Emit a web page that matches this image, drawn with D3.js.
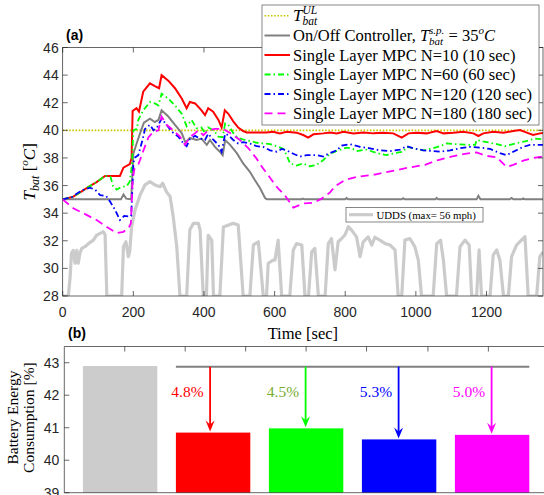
<!DOCTYPE html>
<html>
<head>
<meta charset="utf-8">
<script src="https://cdn.jsdelivr.net/npm/d3@7"></script>
<style>
  body { margin: 0; background: #fff; }
</style>
</head>
<body>
<script>
// ---- data ----
const timeTicks = [0, 200, 400, 600, 800, 1000, 1200];
const tempTicks = [28, 30, 32, 34, 36, 38, 40, 42, 44, 46];
const tUL = 40;

// [time (s), T_bat (degC)]
const onOff = [[0,35],[165,35],[172,35.35],[180,35.05],[194,35],[200,38.3],[210,39.1],[222,40.0],[230,40.55],[247,40.85],[261,40.6],[271,40.75],[280,41.45],[299,41.0],[318,40.4],[337,39.8],[348,39.1],[360,39.45],[379,39.3],[393,39.4],[408,38.95],[417,39.3],[431,38.8],[445,38.45],[453,38.2],[460,39.3],[474,38.95],[493,38.35],[511,37.6],[530,37.0],[544,36.4],[559,35.8],[573,35.1],[578,35],[676,35],[680,35.05],[684,35],[800,35],[804,35.1],[808,35],[960,35],[964,35.08],[968,35],[1055,35],[1059,35.1],[1063,35],[1172,35],[1177,35.25],[1183,35],[1266,35],[1271,35.1],[1276,35],[1300,35],[1304,35.07],[1308,35],[1360,35]];

const mpc10 = [[0,35],[30,35.2],[55,35.6],[73,35.9],[96,36.25],[120,36.7],[162,36.7],[172,37.3],[190,37.55],[195,38.0],[198,41.4],[209,41.6],[216,41.35],[228,42.8],[247,43.4],[261,43.2],[273,43.05],[280,44.0],[299,43.6],[318,43.05],[337,42.3],[351,41.6],[360,42.05],[375,41.95],[393,41.45],[403,41.1],[412,41.6],[426,41.35],[441,40.75],[450,40.2],[459,41.45],[469,41.2],[483,40.65],[497,40.2],[511,39.95],[521,39.85],[549,39.85],[577,39.85],[596,39.9],[615,39.78],[634,39.9],[662,39.83],[681,39.66],[695,39.47],[710,39.71],[738,39.78],[757,39.85],[776,39.78],[795,39.9],[823,39.78],[851,39.85],[880,39.78],[908,39.83],[936,39.78],[960,39.47],[979,39.78],[1002,39.83],[1030,39.78],[1059,39.95],[1078,39.78],[1106,39.83],[1134,39.9],[1163,39.78],[1177,39.59],[1191,39.78],[1219,39.9],[1248,39.83],[1276,39.95],[1295,40.02],[1314,39.83],[1332,39.66],[1351,39.78],[1360,39.8]];

const mpc60 = [[0,35],[30,35.2],[55,35.6],[73,35.9],[96,36.25],[120,36.7],[135,36.65],[143,35.95],[153,35.7],[165,35.9],[181,35.95],[190,36.3],[196,37.5],[200,40.0],[210,40.1],[214,40.75],[228,41.45],[247,42.05],[261,41.95],[271,41.8],[280,42.65],[299,42.3],[318,41.8],[337,41.2],[351,40.3],[365,40.75],[379,40.15],[393,40.2],[403,39.8],[412,40.2],[427,40.0],[441,39.55],[453,39.5],[460,40.5],[469,40.4],[483,39.8],[497,39.45],[516,39.3],[535,39.2],[549,39.1],[568,39.05],[587,39.0],[606,38.85],[625,38.65],[634,38.2],[644,37.6],[662,37.45],[681,37.6],[700,37.4],[719,37.5],[738,37.85],[757,38.3],[780,38.55],[804,38.75],[818,38.7],[832,38.5],[861,38.6],[889,38.35],[917,38.2],[941,38.35],[964,38.45],[974,38.8],[993,38.7],[1021,38.55],[1049,38.7],[1068,38.85],[1087,39.05],[1115,39.0],[1153,38.95],[1168,38.95],[1172,39.3],[1200,39.15],[1229,39.0],[1252,38.85],[1281,39.05],[1309,39.2],[1337,39.4],[1360,39.35]];

const mpc120 = [[0,35],[25,35.15],[54,35.65],[77,35.85],[92,35.7],[106,35.3],[123,35.25],[134,34.85],[148,34.25],[162,33.5],[174,33.8],[189,33.75],[194,33.8],[200,37.5],[203,38.0],[214,38.2],[226,39.3],[233,40.1],[247,40.4],[257,40.0],[266,40.15],[280,40.85],[294,40.4],[309,39.9],[327,39.55],[342,39.05],[351,38.85],[360,39.35],[375,39.6],[389,39.4],[403,39.3],[412,39.75],[427,39.3],[441,38.95],[450,38.45],[460,39.75],[469,39.65],[483,39.3],[497,39.05],[511,39.15],[530,39.05],[549,38.85],[568,38.8],[587,38.55],[606,38.45],[620,38.65],[634,38.55],[653,38.3],[672,38.1],[691,38.2],[719,38.2],[738,38.1],[752,38.3],[776,38.55],[790,38.9],[813,39.0],[842,38.8],[870,38.7],[898,38.55],[927,38.5],[955,38.6],[974,38.85],[993,38.7],[1021,38.55],[1049,38.5],[1068,38.45],[1097,38.55],[1125,38.7],[1153,38.8],[1182,38.75],[1210,38.65],[1238,38.35],[1257,38.2],[1276,38.45],[1304,38.8],[1323,38.95],[1360,38.95]];

const mpc180 = [[0,35],[30,34.35],[58,34.0],[96,33.5],[125,33.0],[153,32.55],[172,32.65],[186,32.9],[193,33.25],[198,36.4],[203,37.2],[214,37.5],[228,38.5],[243,39.5],[257,39.9],[271,40.0],[280,41.0],[294,40.4],[313,40.0],[332,39.55],[346,38.95],[360,39.5],[375,39.8],[384,40.0],[398,39.65],[412,40.0],[431,40.1],[455,40.1],[474,39.8],[502,39.3],[526,38.7],[549,37.95],[563,37.4],[582,36.75],[606,35.9],[629,35.3],[644,34.75],[653,34.4],[681,34.7],[710,34.75],[733,35.05],[757,35.5],[771,35.95],[799,36.4],[837,36.65],[884,36.8],[931,37.05],[979,37.3],[1026,37.5],[1063,37.85],[1101,38.1],[1139,38.3],[1172,38.4],[1200,38.15],[1229,38.05],[1243,37.7],[1257,37.35],[1276,37.5],[1304,37.8],[1332,38.0],[1360,38.1]];

// UDDS drive cycle, [time (s), speed (mph)]
const udds = [[0,0],[16,0],[21,9.4],[25,21],[30,22.3],[35,16],[40,22.3],[44,16],[49,21],[54,23.3],[63,24.1],[73,25.6],[87,27.3],[96,29.7],[106,30.6],[115,31.4],[120,30],[125,0],[167,0],[172,24.1],[179,26.5],[186,19.2],[190,22],[195,33.9],[205,42],[219,49.3],[233,54.3],[247,55.9],[261,54.3],[276,53.4],[283,55.1],[294,50.9],[304,48.6],[313,38.7],[323,24.1],[332,0],[351,0],[360,32.4],[370,35.5],[384,35.5],[389,32.4],[398,0],[407,0],[412,29.7],[422,27.3],[427,0],[445,0],[455,33.7],[483,35.5],[497,34.7],[511,0],[530,0],[540,25],[554,26.5],[568,0],[577,0],[582,16],[596,17.5],[601,17.5],[610,27.3],[620,0],[643,0],[653,22.5],[662,25.6],[677,24.9],[686,0],[696,0],[705,21.6],[714,23.3],[724,0],[743,0],[752,25.6],[761,28.1],[771,12.8],[780,26.5],[790,28.1],[799,29.8],[809,33.9],[818,32.2],[832,28.9],[842,19.2],[851,26.5],[865,28.9],[875,24.9],[884,28.7],[898,27.3],[913,25.6],[927,24.9],[941,22.5],[950,0],[960,0],[969,27.3],[983,28.1],[997,24.1],[1007,17.5],[1016,0],[1049,0],[1059,25.6],[1070,27.3],[1078,17.5],[1087,0],[1115,0],[1125,24.1],[1139,27.3],[1151,24.9],[1158,0],[1172,0],[1179,22.5],[1186,0],[1210,0],[1219,20],[1229,22.5],[1238,17.5],[1248,0],[1262,0],[1271,19.2],[1285,24.9],[1299,27.3],[1309,29],[1318,0],[1342,0],[1351,19.2],[1360,21.5]];
const uddsMax = 56;

const mpcLabels = ["Single Layer MPC N=10 (10 sec)", "Single Layer MPC N=60 (60 sec)",
  "Single Layer MPC N=120 (120 sec)", "Single Layer MPC N=180 (180 sec)"];

// bottom panel
const barNames = ["On/Off", "N=10", "N=60", "N=120", "N=180"];
const barValues = [42.9, 40.85, 40.98, 40.64, 40.78];
const barPct = [null, "4.8%", "4.5%", "5.3%", "5.0%"];
const energyTicks = [39, 40, 41, 42, 43];
const barTopTicks = [1.05, 1.70, 2.35, 3.0, 3.65, 4.31, 4.96];

// ---- drawing ----
const SERIF = "'Liberation Serif', 'Times New Roman', 'DejaVu Serif', serif";
const SANS = "'Liberation Sans', Arial, Helvetica, sans-serif";

const svg = d3.select("body").append("svg").attr("width", 544).attr("height", 495);

const x = d3.scaleLinear().domain([0, 1360]).range([62.7, 543]);
const y = d3.scaleLinear().domain([28, 46]).range([296, 47.5]);
const spd = d3.scaleLinear().domain([0, uddsMax]).range([28, 36.3]);

svg.append("defs").append("clipPath").attr("id", "clipA")
  .append("rect").attr("x", x(0)).attr("y", y(46))
  .attr("width", x(1360) - x(0)).attr("height", y(28) - y(46));

const plot = svg.append("g").attr("clip-path", "url(#clipA)");
const line = d3.line().x(d => x(d[0])).y(d => y(d[1]));

plot.append("path").datum(udds)
  .attr("d", d3.line().x(d => x(d[0])).y(d => y(spd(d[1]))))
  .attr("fill", "none").attr("stroke", "#cbcbcb").attr("stroke-width", 3.2)
  .attr("stroke-linejoin", "round");

const series = [
  { data: [[0, tUL], [1360, tUL]], color: "#c8c800", w: 1.6, dash: "1.6,1.6" },
  { data: onOff, color: "#808080", w: 2, dash: null },
  { data: mpc10, color: "#ff0000", w: 2, dash: null },
  { data: mpc60, color: "#00ff00", w: 1.8, dash: "6,3,1.5,3" },
  { data: mpc120, color: "#0000ff", w: 1.8, dash: "6,3,1.5,3" },
  { data: mpc180, color: "#ff00ff", w: 1.8, dash: "8,5" }
];
series.forEach(s => {
  plot.append("path").datum(s.data).attr("d", line)
    .attr("fill", "none").attr("stroke", s.color).attr("stroke-width", s.w)
    .attr("stroke-dasharray", s.dash);
});

// frame + ticks
const axA = svg.append("g").attr("stroke", "#262626").attr("stroke-width", 0.7);
axA.append("rect").attr("x", x(0)).attr("y", y(46)).attr("width", x(1360) - x(0))
  .attr("height", y(28) - y(46)).attr("fill", "none");
timeTicks.forEach(t => {
  axA.append("line").attr("x1", x(t)).attr("x2", x(t)).attr("y1", y(28)).attr("y2", y(28) - 5);
  axA.append("line").attr("x1", x(t)).attr("x2", x(t)).attr("y1", y(46)).attr("y2", y(46) + 5);
});
tempTicks.forEach(v => {
  axA.append("line").attr("x1", x(0)).attr("x2", x(0) + 5).attr("y1", y(v)).attr("y2", y(v));
  axA.append("line").attr("x1", x(1360)).attr("x2", x(1360) - 5).attr("y1", y(v)).attr("y2", y(v));
});
svg.selectAll(".xl").data(timeTicks).enter().append("text")
  .attr("font-family", SANS).attr("font-size", 14).attr("fill", "#262626")
  .attr("x", d => x(d)).attr("y", 317).attr("text-anchor", "middle").text(d => d);
svg.selectAll(".yl").data(tempTicks).enter().append("text")
  .attr("font-family", SANS).attr("font-size", 14).attr("fill", "#262626")
  .attr("x", x(0) - 4).attr("y", d => y(d)).attr("dy", "0.36em")
  .attr("text-anchor", "end").text(d => d);

// serif text helper
function serifText(g, size) {
  return g.append("text").attr("font-family", SERIF).attr("font-size", size).attr("fill", "#000");
}

// rich text: parts placed one after another, measured
function rich(g, x0, y0, parts, size) {
  let cx = x0, holdW = 0;
  parts.forEach(p => {
    const el = serifText(g, p.fs || size)
      .attr("x", cx).attr("y", y0 + (p.dy || 0))
      .attr("font-style", p.it ? "italic" : null)
      .style("white-space", "pre").text(p.s);
    const w = el.node().getComputedTextLength();
    if (p.hold) { holdW = w; }
    else { cx += Math.max(w, holdW); holdW = 0; }
  });
  return cx;
}

// axis labels
serifText(svg, 16.5)
  .attr("x", (x(0) + x(1360)) / 2).attr("y", 339).attr("text-anchor", "middle")
  .text("Time [sec]");
const yl = svg.append("g");
const ylEnd = rich(yl, 0, 0, [
  { s: "T", it: true },
  { s: "bat", it: true, fs: 12, dy: 4 },
  { s: " [" },
  { s: "o", it: true, fs: 11, dy: -7 },
  { s: "C", it: true },
  { s: "]" }
], 17);
yl.attr("transform", `translate(35,${(y(28) + y(46)) / 2}) rotate(-90) translate(${-ylEnd / 2},0)`);

svg.append("text").attr("x", 66).attr("y", 40)
  .attr("font-family", SANS).attr("font-weight", "bold")
  .attr("font-size", 14).text("(a)");

// legend (a)
const lg = svg.append("g");
lg.append("rect").attr("x", 262).attr("y", 5).attr("width", 277).attr("height", 120)
  .attr("fill", "#fff").attr("stroke", "#555").attr("stroke-width", 0.7);
const rowY = [15.7, 35.5, 55, 74.5, 94, 113.3];
series.forEach((s, i) => {
  lg.append("line").attr("x1", 264.5).attr("x2", 290).attr("y1", rowY[i]).attr("y2", rowY[i])
    .attr("stroke", s.color).attr("stroke-width", s.w).attr("stroke-dasharray", s.dash);
});
rich(lg, 293, 20.5, [
  { s: "T", it: true },
  { s: "UL", it: true, fs: 11.5, dy: -7, hold: true },
  { s: "bat", it: true, fs: 11.5, dy: 4 }
], 17);
rich(lg, 293, rowY[1] + 5.5, [
  { s: "On/Off Controller, " },
  { s: "T", it: true },
  { s: "s.p.", it: true, fs: 11, dy: -7, hold: true },
  { s: "bat", it: true, fs: 11, dy: 4 },
  { s: " = 35" },
  { s: "o", it: true, fs: 11, dy: -7 },
  { s: "C", it: true }
], 16.5);
mpcLabels.forEach((t, i) => {
  serifText(lg, 16.5).attr("x", 293).attr("y", rowY[i + 2] + 5.5).text(t);
});

// UDDS legend
const ul = svg.append("g");
ul.append("rect").attr("x", 346).attr("y", 207.5).attr("width", 137).attr("height", 14.5)
  .attr("fill", "#fff").attr("stroke", "#555").attr("stroke-width", 0.7);
ul.append("line").attr("x1", 349).attr("x2", 373).attr("y1", 214.7).attr("y2", 214.7)
  .attr("stroke", "#cbcbcb").attr("stroke-width", 3.2);
serifText(ul, 10.8).attr("x", 376.5).attr("y", 218.5).style("white-space", "pre")
  .text("UDDS (max= " + uddsMax + " mph)");

// ---- panel (b) ----
const xb = d3.scaleLinear().domain([0.4, 5.6]).range([64.3, 547.9]);
const yb = d3.scaleLinear().domain([39, 43.5]).range([492.7, 346.5]);
const barColors = ["#cccccc", "#ff0000", "#00ff00", "#0000ff", "#ff00ff"];
const pctColors = [null, "#ff0000", "#77ac30", "#0000ff", "#ff00ff"];
const bw = 0.8;

svg.selectAll(".bar").data(barValues).enter().append("rect")
  .attr("x", (d, i) => xb(i + 1 - bw / 2)).attr("width", xb(1 + bw / 2) - xb(1 - bw / 2))
  .attr("y", d => yb(d)).attr("height", d => yb(39) - yb(d))
  .attr("fill", (d, i) => barColors[i]);

const axB = svg.append("g").attr("stroke", "#262626").attr("stroke-width", 0.7);
axB.append("line").attr("x1", xb(0.4)).attr("x2", xb(0.4)).attr("y1", yb(39)).attr("y2", yb(43.5));
axB.append("line").attr("x1", xb(0.4)).attr("x2", xb(5.6)).attr("y1", yb(43.5)).attr("y2", yb(43.5));
axB.append("line").attr("x1", xb(0.4)).attr("x2", xb(5.6)).attr("y1", yb(39)).attr("y2", yb(39));
energyTicks.forEach(v => {
  axB.append("line").attr("x1", xb(0.4)).attr("x2", xb(0.4) + 5).attr("y1", yb(v)).attr("y2", yb(v));
});
barTopTicks.forEach(t => {
  axB.append("line").attr("x1", xb(t)).attr("x2", xb(t)).attr("y1", yb(43.5)).attr("y2", yb(43.5) + 5);
});
svg.selectAll(".ybl").data(energyTicks).enter().append("text")
  .attr("font-family", SANS).attr("font-size", 14).attr("fill", "#262626")
  .attr("x", xb(0.4) - 5).attr("y", d => yb(d)).attr("dy", "0.36em")
  .attr("text-anchor", "end").text(d => d);

// reference line + arrows
const ref = barValues[0] - 0.02;
svg.append("line").attr("x1", xb(2 - bw / 2)).attr("x2", xb(5 + bw / 2))
  .attr("y1", yb(ref)).attr("y2", yb(ref)).attr("stroke", "#808080").attr("stroke-width", 2);
barValues.forEach((v, i) => {
  if (i === 0) return;
  const cx = xb(i + 1) - (i === 1 ? 3 : 0.5);
  const tip = yb(v) - 1;
  svg.append("line").attr("x1", cx).attr("x2", cx).attr("y1", yb(ref)).attr("y2", tip - 6)
    .attr("stroke", barColors[i]).attr("stroke-width", 1.8);
  svg.append("path")
    .attr("d", `M${cx},${tip} L${cx - 4.5},${tip - 11} L${cx},${tip - 7} L${cx + 4.5},${tip - 11} Z`)
    .attr("fill", barColors[i]);
  serifText(svg, 15.5)
    .attr("x", cx - 6.5).attr("y", yb(42.1) + 5.5).attr("text-anchor", "end")
    .attr("fill", pctColors[i]).text(barPct[i]);
});

svg.append("text").attr("x", 68).attr("y", 338)
  .attr("font-family", SANS).attr("font-weight", "bold")
  .attr("font-size", 14).text("(b)");

const ylb = (yb(39) + yb(43.5)) / 2 - 2;
serifText(svg, 15.5)
  .attr("transform", `translate(18,${ylb}) rotate(-90)`).attr("text-anchor", "middle")
  .text("Battery Energy");
serifText(svg, 15.5)
  .attr("transform", `translate(34,${ylb}) rotate(-90)`).attr("text-anchor", "middle")
  .text("Consumption [%]");
</script>
</body>
</html>
